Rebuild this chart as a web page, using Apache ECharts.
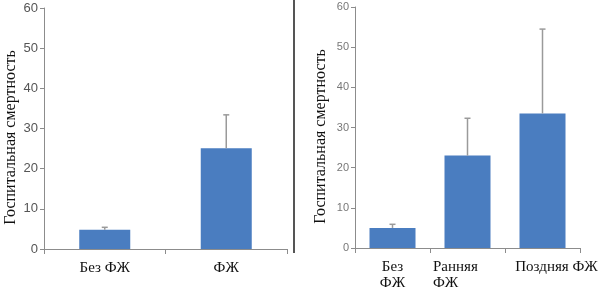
<!DOCTYPE html>
<html>
<head>
<meta charset="utf-8">
<script src="https://cdn.jsdelivr.net/npm/echarts@6/dist/echarts.min.js"></script>
<style>
  html, body { margin: 0; padding: 0; background: #fff; }
  #chart { width: 612px; height: 297px; }
</style>
</head>
<body>
<div id="chart"></div>
<script>
// left panel: no AF vs AF
const leftCats = ['Без ФЖ', 'ФЖ']
const leftVals = [4.8, 25.1]
const leftErr = [0.6, 8.3]

// right panel: no AF / early AF / late AF
const rightCats = ['Без\nФЖ', 'Ранняя\nФЖ', 'Поздняя ФЖ']
const rightVals = [5.0, 23.0, 33.5]
const rightErr = [0.9, 9.3, 21.0]

const yTicks = [0, 10, 20, 30, 40, 50, 60]
const yTitle = 'Госпитальная смертность'

const barColor = '#4a7dc0'
const errColor = '#9a9a9a'
const serif = '"Liberation Serif", "Times New Roman", serif'

const myChart = echarts.init(document.getElementById('chart'))

const errorItem = (params, api) => {
  const x = api.value(0)
  const base = api.coord([x, api.value(1)])
  const top = api.coord([x, api.value(1) + api.value(2)])
  return {
    type: 'group',
    children: [
      {type: 'line', shape: {x1: base[0], y1: base[1], x2: top[0], y2: top[1]},
        style: {stroke: errColor, lineWidth: 1.5}},
      {type: 'line', shape: {x1: top[0] - 3, y1: top[1], x2: top[0] + 3, y2: top[1]},
        style: {stroke: errColor, lineWidth: 1.5}}
    ]
  }
}

const yAxisBase = (labelColor, labelSize, gap) => ({
  type: 'value',
  min: yTicks[0],
  max: yTicks[yTicks.length - 1],
  interval: 10,
  name: yTitle,
  nameLocation: 'middle',
  nameGap: gap,
  nameTextStyle: {fontFamily: serif, fontSize: 16, color: '#111', padding: [0, 18, 0, 0]},
  axisLine: {show: true, lineStyle: {color: '#8c8c8c', width: 1}},
  axisTick: {show: true, length: 4, lineStyle: {color: '#8c8c8c'}},
  axisLabel: {color: labelColor, fontSize: labelSize, margin: 6, fontFamily: 'Liberation Sans, Arial, sans-serif'},
  splitLine: {show: false}
})

const labelText = {fontFamily: serif, fontSize: 15, color: '#111', lineHeight: 16}

const xAxisBase = {
  type: 'category',
  axisLine: {lineStyle: {color: '#8c8c8c', width: 1}},
  axisTick: {show: true, length: 5, interval: 0, alignWithLabel: false, lineStyle: {color: '#8c8c8c'}},
  axisLabel: {interval: 0, margin: 11, ...labelText}
}

// nudge the right-panel labels the way they sit in the source figure
const rightLabel = (v) => {
  if (v === rightCats[1]) return '{l|Ранняя}{s|}\n{l|ФЖ}{s|}'
  if (v === rightCats[2]) return '{p|}{t|' + v + '}'
  return v
}

const option = {
  animation: false,
  grid: [
    {left: 44, top: 8, right: 325, bottom: 48},
    {left: 355, top: 7, right: 32, bottom: 49}
  ],
  xAxis: [
    {...xAxisBase, gridIndex: 0, data: leftCats},
    {
      ...xAxisBase, gridIndex: 1, data: rightCats,
      axisLabel: {
        ...xAxisBase.axisLabel,
        formatter: rightLabel,
        rich: {
          l: {...labelText, width: 47, align: 'left'},
          s: {...labelText, width: 22},
          p: {...labelText, width: 28},
          t: {...labelText}
        }
      }
    }
  ],
  yAxis: [
    {...yAxisBase('#555', 13, 25), gridIndex: 0},
    {...yAxisBase('#777', 11, 26), gridIndex: 1}
  ],
  graphic: [
    {type: 'line', shape: {x1: 294, y1: 0, x2: 294, y2: 253}, style: {stroke: '#555', lineWidth: 2}}
  ],
  series: [
    {
      type: 'bar', xAxisIndex: 0, yAxisIndex: 0, data: leftVals,
      barWidth: 51, itemStyle: {color: barColor}
    },
    {
      type: 'custom', xAxisIndex: 0, yAxisIndex: 0, renderItem: errorItem,
      data: leftCats.map((c, i) => [i, leftVals[i], leftErr[i]]), z: 3
    },
    {
      type: 'bar', xAxisIndex: 1, yAxisIndex: 1, data: rightVals,
      barWidth: 46, itemStyle: {color: barColor}
    },
    {
      type: 'custom', xAxisIndex: 1, yAxisIndex: 1, renderItem: errorItem,
      data: rightCats.map((c, i) => [i, rightVals[i], rightErr[i]]), z: 3
    }
  ]
}

myChart.setOption(option)
</script>
</body>
</html>
